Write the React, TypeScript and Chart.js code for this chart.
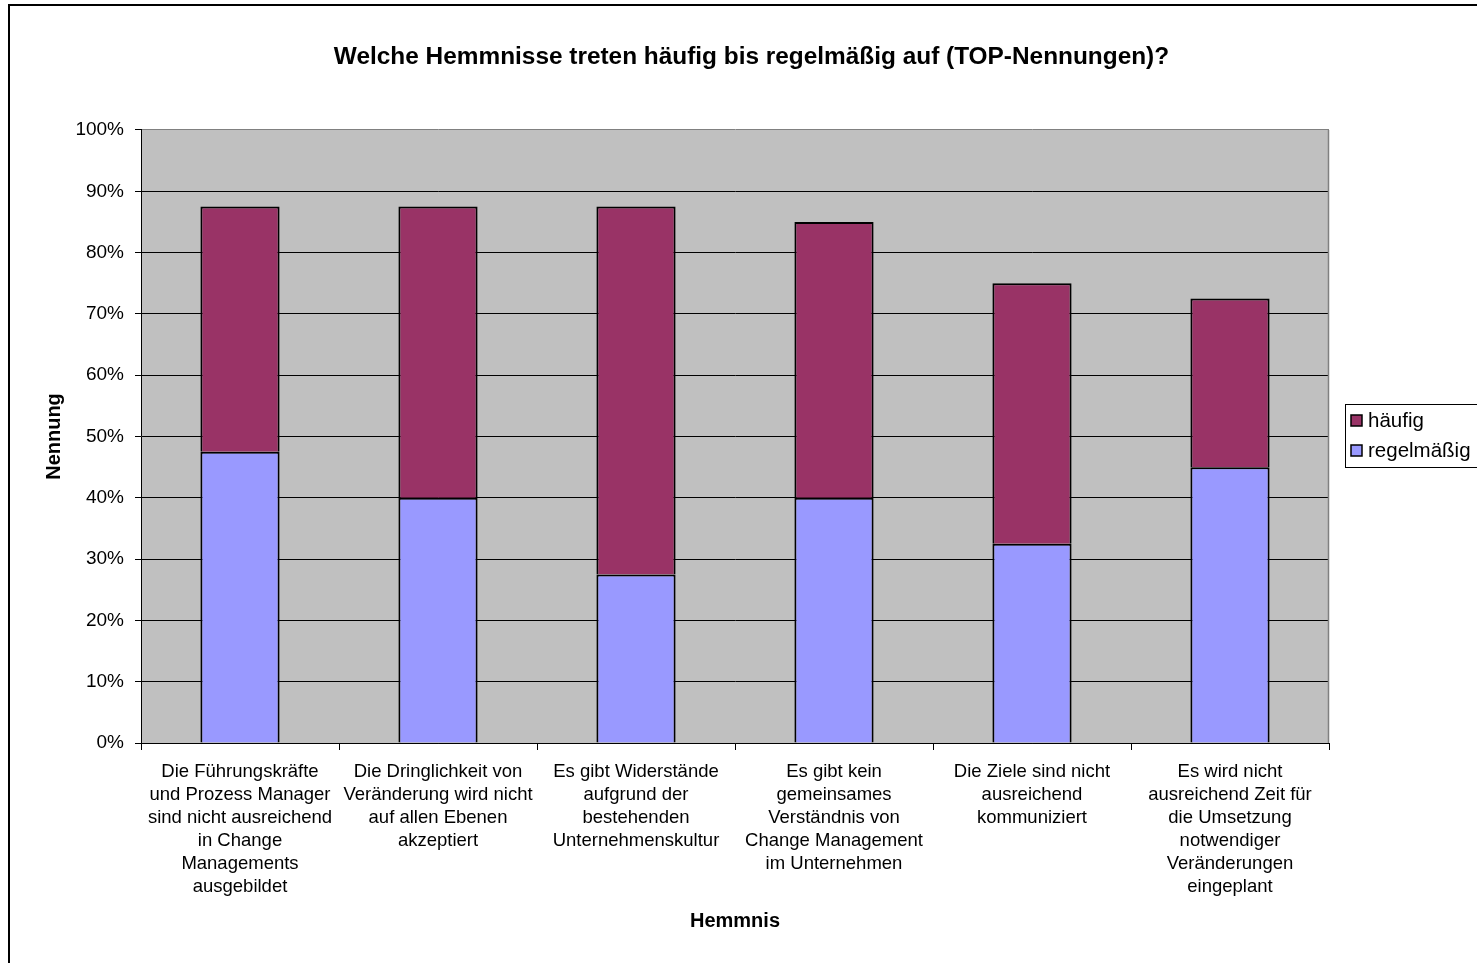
import React, { useEffect, useRef } from "react";
import { Chart, registerables } from "chart.js";

Chart.register(...registerables);

const FONT = "'Liberation Sans', Arial, Helvetica, sans-serif";

const chartTitle = "Welche Hemmnisse treten häufig bis regelmäßig auf (TOP-Nennungen)?";
const xAxisTitle = "Hemmnis";
const yAxisTitle = "Nennung";

const categories: string[][] = [
  ["Die Führungskräfte", "und Prozess Manager", "sind nicht ausreichend", "in Change", "Managements", "ausgebildet"],
  ["Die Dringlichkeit von", "Veränderung wird nicht", "auf allen Ebenen", "akzeptiert"],
  ["Es gibt Widerstände", "aufgrund der", "bestehenden", "Unternehmenskultur"],
  ["Es gibt kein", "gemeinsames", "Verständnis von", "Change Management", "im Unternehmen"],
  ["Die Ziele sind nicht", "ausreichend", "kommuniziert"],
  ["Es wird nicht", "ausreichend Zeit für", "die Umsetzung", "notwendiger", "Veränderungen", "eingeplant"],
];

const seriesNames = ["regelmäßig", "häufig"];
const seriesColors = ["#9999FF", "#993366"];
const regelmaessig = [47.5, 40, 27.5, 40, 32.5, 45];
const haeufig = [40, 47.5, 60, 45, 42.5, 27.5];

const yTicks = [0, 10, 20, 30, 40, 50, 60, 70, 80, 90, 100];
const yTickLabels = ["0%", "10%", "20%", "30%", "40%", "50%", "60%", "70%", "80%", "90%", "100%"];

const decorPlugin = {
  id: "decor",
  beforeDraw(chart: any) {
    const { ctx, chartArea: a } = chart;
    ctx.save();
    ctx.fillStyle = "#ffffff";
    ctx.fillRect(0, 0, chart.width, chart.height);
    ctx.fillStyle = "#C0C0C0";
    ctx.fillRect(a.left, a.top, a.right - a.left, a.bottom - a.top);
    ctx.strokeStyle = "#000";
    ctx.lineWidth = 2;
    ctx.strokeRect(9, 5, chart.width + 10, chart.height + 10);
    ctx.restore();
  },
  beforeDatasetsDraw(chart: any) {
    const { ctx, chartArea: a } = chart;
    ctx.save();
    ctx.strokeStyle = "#808080";
    ctx.lineWidth = 1.5;
    ctx.beginPath();
    ctx.moveTo(Math.round(a.right) - 0.5, a.top);
    ctx.lineTo(Math.round(a.right) - 0.5, a.bottom);
    ctx.stroke();
    ctx.restore();
  },
  afterDraw(chart: any) {
    const { ctx, chartArea: a } = chart;
    const cy = (a.top + a.bottom) / 2;
    const lx = Math.round(a.right) + 16;
    const top = Math.round(cy - 32.5) + 0.5;
    ctx.save();
    ctx.strokeStyle = "#000";
    ctx.lineWidth = 1;
    ctx.fillStyle = "#fff";
    ctx.fillRect(lx + 0.5, top, chart.width, 63);
    ctx.strokeRect(lx + 0.5, top, chart.width, 63);
    const ds = chart.data.datasets.slice().reverse();
    ds.forEach((d: any, i: number) => {
      const y = cy - 15.5 + i * 30;
      ctx.fillStyle = d.backgroundColor;
      ctx.lineWidth = 1.5;
      ctx.fillRect(lx + 6, Math.round(y - 5.5), 11, 11);
      ctx.strokeRect(lx + 6, Math.round(y - 5.5), 11, 11);
      ctx.fillStyle = "#000";
      ctx.font = `20.5px ${FONT}`;
      ctx.textBaseline = "middle";
      ctx.textAlign = "left";
      ctx.fillText(d.label, lx + 23, y);
    });
    ctx.restore();
  },
};

export default function App() {
  const ref = useRef<HTMLCanvasElement | null>(null);

  useEffect(() => {
    if (!ref.current) return;
    Chart.defaults.font.family = FONT;
    const chart = new Chart(ref.current, {
      type: "bar",
      data: {
        labels: categories,
        datasets: [
          {
            label: seriesNames[0],
            data: regelmaessig,
            backgroundColor: seriesColors[0],
            borderColor: "#000",
            borderWidth: 2,
            borderSkipped: "start",
            barPercentage: 0.4,
            categoryPercentage: 1.0,
            yAxisID: "y",
          },
          {
            label: seriesNames[1],
            data: haeufig,
            backgroundColor: seriesColors[1],
            borderColor: "#000",
            borderWidth: 2,
            borderSkipped: "start",
            barPercentage: 0.4,
            categoryPercentage: 1.0,
            yAxisID: "y",
          },
        ],
      },
      options: {
        responsive: false,
        animation: false,
        layout: { padding: { left: 26, right: 0, top: 0, bottom: 0 } },
        plugins: {
          legend: { display: false },
          tooltip: { enabled: false },
          title: {
            display: true,
            text: chartTitle,
            color: "#000",
            font: { family: FONT, size: 24.4, weight: "bold", lineHeight: 1.2 },
            padding: { top: 43, bottom: 57.7 },
          },
        },
        scales: {
          x: {
            stacked: true,
            offset: true,
            grid: {
              display: true,
              drawOnChartArea: false,
              drawTicks: true,
              tickLength: 7,
              color: "#000",
              offset: true,
            },
            border: { display: true, color: "#000", width: 1 },
            ticks: {
              color: "#000",
              font: { family: FONT, size: 18.5, lineHeight: 23 / 18.5 },
              padding: 10,
              maxRotation: 0,
              minRotation: 0,
              autoSkip: false,
            },
            title: {
              display: true,
              text: xAxisTitle,
              color: "#000",
              font: { family: FONT, size: 20, weight: "bold", lineHeight: 1.2 },
              padding: { top: 0, bottom: 30 },
            },
            afterFit(s: any) {
              s.height = 220;
            },
          },
          y: {
            stacked: true,
            min: 0,
            max: 100,
            afterBuildTicks(s: any) {
              s.ticks = yTicks.map((v) => ({ value: v }));
            },
            ticks: {
              color: "#000",
              font: { family: FONT, size: 19 },
              padding: 11,
              callback: (v: any) => yTickLabels[yTicks.indexOf(Number(v))] ?? "",
            },
            grid: {
              color: (c: any) => (c.tick && c.tick.value === 100 ? "#808080" : "#000"),
              tickColor: "#000",
              tickLength: 6,
              lineWidth: 1,
            },
            border: { display: true, color: "#000", width: 1 },
            title: {
              display: true,
              text: yAxisTitle,
              color: "#000",
              font: { family: FONT, size: 20, weight: "bold", lineHeight: 1.2 },
              padding: { top: 16, bottom: 0 },
            },
            afterFit(s: any) {
              s.width = 115;
            },
          },
          legendSpace: {
            type: "linear",
            position: "right",
            display: true,
            grid: { display: false },
            ticks: { display: false },
            border: { display: false },
            afterFit(s: any) {
              s.width = 148;
            },
          },
        },
      } as any,
      plugins: [decorPlugin],
    });
    return () => chart.destroy();
  }, []);

  return (
    <div style={{ position: "absolute", left: 0, top: 0, width: 1477, height: 963 }}>
      <canvas ref={ref} width={1477} height={963} style={{ display: "block" }} />
    </div>
  );
}
